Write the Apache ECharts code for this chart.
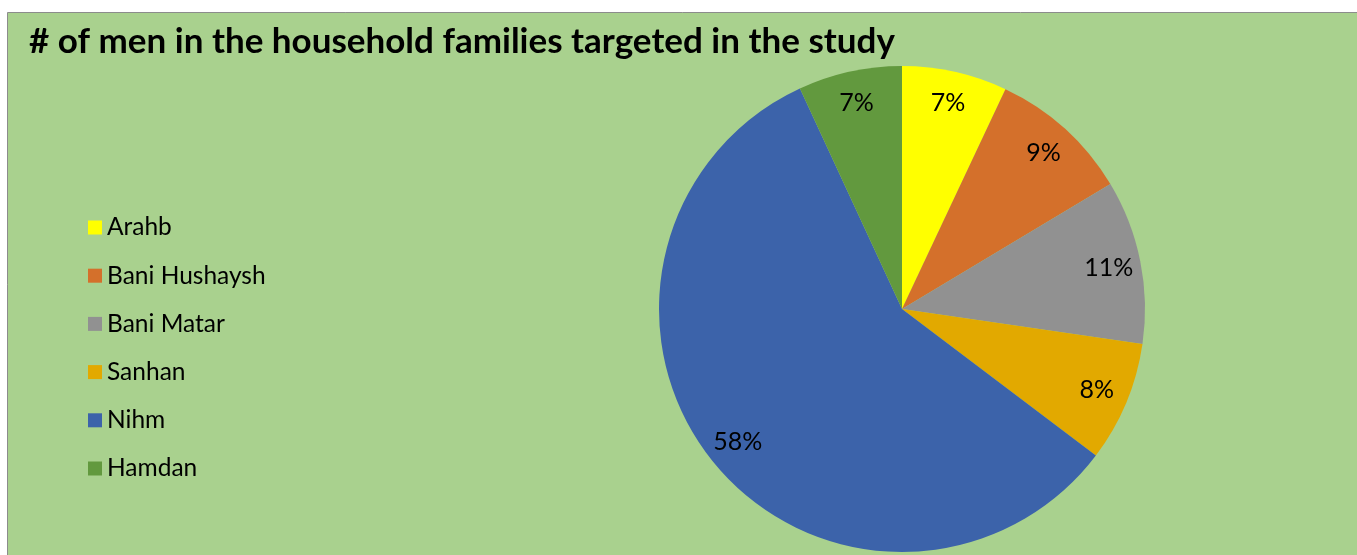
<!DOCTYPE html>
<html><head><meta charset="utf-8">
<script src="https://cdn.jsdelivr.net/npm/echarts@6/dist/echarts.min.js"></script>
<style>html,body{margin:0;padding:0;background:#fff;overflow:hidden}#c{width:1357px;height:555px}</style>
</head><body><div id="c"></div>
<script>
const categories = ['Arahb', 'Bani Hushaysh', 'Bani Matar', 'Sanhan', 'Nihm', 'Hamdan'];
const values = [7.0, 9.4, 10.9, 8.0, 57.8, 6.9];
const colors = ['#ffff00', '#d4702b', '#919191', '#e2a900', '#3c63aa', '#62993e'];
const titleText = '# of men in the household families targeted in the study';

const data = categories.map((n, i) => ({ name: n, value: values[i], itemStyle: { color: colors[i] } }));
const chart = echarts.init(document.getElementById('c'));
const FONT = 'Lato';
chart.setOption({
  backgroundColor: '#ffffff',
  animation: false,
  graphic: [{
    type: 'rect', z: -10, silent: true,
    shape: { x: 7.5, y: 12.5, width: 1400, height: 600 },
    style: { fill: '#a9d18e', stroke: '#8c8c8c', lineWidth: 1 }
  }],
  title: {
    text: titleText, left: 24, top: 19,
    textStyle: { fontFamily: FONT, fontWeight: 'bold', fontSize: 35, color: '#000' }
  },
  legend: {
    orient: 'vertical', left: 88, top: 215, padding: 0,
    icon: 'rect', itemWidth: 14, itemHeight: 14, itemGap: 23.2,
    textStyle: { fontFamily: FONT, fontSize: 24.5, lineHeight: 24, color: '#000' },
    data: categories
  },
  series: [{
    type: 'pie', center: [902, 309], radius: [0, 243],
    startAngle: 90, clockwise: true, label: { show: false }, labelLine: { show: false },
    emphasis: { disabled: true },
    data: data
  }, {
    type: 'pie', center: [902, 309], radius: [173, 243], silent: true,
    startAngle: 90, clockwise: true, legendHoverLink: false,
    itemStyle: { color: 'rgba(0,0,0,0)' },
    label: {
      show: true, position: 'inside', fontFamily: FONT, fontSize: 25, color: '#000',
      formatter: p => Math.round(p.percent) + '%'
    },
    labelLine: { show: false },
    emphasis: { disabled: true },
    data: categories.map((n, i) => ({ name: n + ' ', value: values[i] }))
  }]
});
</script></body></html>
